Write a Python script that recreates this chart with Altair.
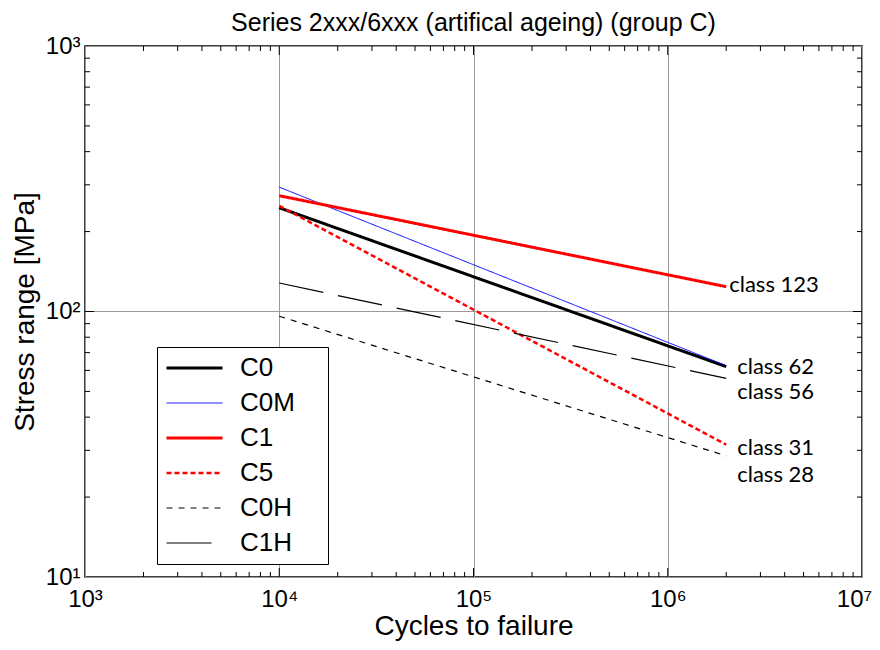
import altair as alt
import pandas as pd

# ---- data ----
series = ["C0", "C0M", "C1", "C5", "C0H", "C1H"]
colors = ["#000000", "#0000ff", "#ff0000", "#ff0000", "#000000", "#000000"]
dashes = [[1, 0], [1, 0], [1, 0], [5, 3], [6, 6], [45, 15]]
widths = [3, 1, 3, 2.5, 1.2, 1.2]
n_start = 1e4
n_end = 2e6
stress_start = [246, 294, 273, 250, 96, 128]
stress_end = [62, 62.5, 124, 31.5, 28.6, 56]

class_labels = ["class 123", "class 62", "class 56", "class 31", "class 28"]
class_values = [123, 62, 56, 31, 28]
class_dx = [3, 11, 11, 11, 11]
class_dy = [-3, 0, 14, 1.5, 16.5]

x_major = [1e3, 1e4, 1e5, 1e6, 1e7]
y_major = [10, 100, 1000]
x_minor = [k * 10 ** d for d in range(3, 7) for k in range(2, 10)]
y_minor = [k * 10 ** d for d in range(1, 3) for k in range(2, 10)]

W, H = 777, 531

rows = []
for s, a, b in zip(series, stress_start, stress_end):
    rows.append({"series": s, "n": n_start, "s": a})
    rows.append({"series": s, "n": n_end, "s": b})
df = pd.DataFrame(rows)

xscale = alt.Scale(type="log", domain=[1e3, 1e7], nice=False)
yscale = alt.Scale(type="log", domain=[10, 1000], nice=False)

sup = "['⁰','¹','²','³','⁴','⁵','⁶','⁷','⁸']"
lab_expr = f"'10' + {sup}[round(log(datum.value)/LN10)]"

leg_common = dict(title=" ", titleOrient="right", titlePadding=25, titleFontSize=1,
                  orient="none", legendX=72, legendY=301,
                  symbolType="stroke", symbolSize=3136, clipHeight=26,
                  labelFontSize=26, labelFont="Liberation Sans", labelColor="black",
                  labelOffset=16, padding=8, rowPadding=9,
                  fillColor="white", strokeColor="black")

lines = alt.Chart(df).mark_line(clip=True).encode(
    x=alt.X("n:Q", scale=xscale,
            axis=alt.Axis(values=x_major, labelExpr=lab_expr, title="Cycles to failure",
                          grid=True, ticks=False, domain=False, labelPadding=10,
                          titlePadding=1, labelFlush=False,
                          labelOffset={"condition": {"test": "datum.value >= 9e6", "value": -8},
                                       "value": 0})),
    y=alt.Y("s:Q", scale=yscale,
            axis=alt.Axis(values=y_major, labelExpr=lab_expr, title="Stress range [MPa]",
                          grid=True, ticks=False, domain=False, labelPadding=5,
                          titlePadding=6, labelFlush=False)),
    color=alt.Color("series:N", scale=alt.Scale(domain=series, range=colors),
                    sort=series, legend=alt.Legend(**leg_common)),
    strokeDash=alt.StrokeDash("series:N", scale=alt.Scale(domain=series, range=dashes),
                              sort=series, legend=alt.Legend(**leg_common)),
    strokeWidth=alt.StrokeWidth("series:N",
                                scale=alt.Scale(type="ordinal", domain=series, range=widths),
                                sort=series, legend=alt.Legend(**leg_common)),
)

layers = [lines]

# class labels
for lab, v, dx, dy in zip(class_labels, class_values, class_dx, class_dy):
    tdf = pd.DataFrame({"n": [n_end], "s": [v], "t": [lab]})
    layers.append(alt.Chart(tdf).mark_text(align="left", baseline="middle", dx=dx, dy=dy,
                                           font="Lato", fontSize=22, color="black").encode(
        x=alt.X("n:Q", scale=xscale), y=alt.Y("s:Q", scale=yscale), text="t:N"))

# inward ticks on all sides
xm = pd.DataFrame({"n": x_minor})
ym = pd.DataFrame({"s": y_minor})
xM = pd.DataFrame({"n": x_major[1:-1]})
yM = pd.DataFrame({"s": y_major[1:-1]})
for d, L in ((xm, 5), (xM, 9)):
    for y0, y1 in ((H, H - L), (0, L)):
        layers.append(alt.Chart(d).mark_rule(color="black", strokeWidth=1).encode(
            x=alt.X("n:Q", scale=xscale), y=alt.value(y0), y2=alt.value(y1)))
for d, L in ((ym, 5), (yM, 9)):
    for x0, x1 in ((0, L), (W, W - L)):
        layers.append(alt.Chart(d).mark_rule(color="black", strokeWidth=1).encode(
            y=alt.Y("s:Q", scale=yscale), x=alt.value(x0), x2=alt.value(x1)))

chart = alt.layer(*layers).properties(
    width=W, height=H,
    background="white",
    title=alt.Title("Series 2xxx/6xxx (artifical ageing) (group C)", fontSize=25,
                    font="Liberation Sans", fontWeight="normal", color="black", offset=-2),
    autosize=alt.AutoSizeParams(type="none"),
    padding={"left": 77, "top": 38, "right": 10, "bottom": 65},
).configure_view(stroke="black", strokeWidth=1.5
).configure_axis(
    labelFont="Liberation Sans", labelFontSize=24, labelColor="black",
    titleFont="Liberation Sans", titleFontSize=28, titleColor="black", titleFontWeight="normal",
    gridColor="#999999", gridWidth=1, gridOpacity=1,
)

chart.save("out.html", embed_options={"renderer": "svg", "actions": False})
